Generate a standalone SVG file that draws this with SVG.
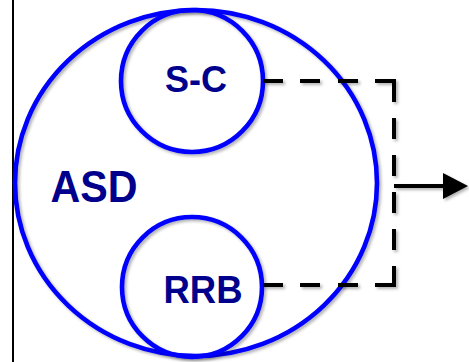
<svg xmlns="http://www.w3.org/2000/svg" width="469" height="362" viewBox="0 0 469 362">
  <style>
    .ring { fill: none; stroke: #0000FF; stroke-width: 4.6; filter: url(#shadow); }
    .label { font-family: "Liberation Sans", Arial, sans-serif; font-weight: bold; fill: #00008C; text-anchor: middle; }
    .dash { fill: none; stroke: #000000; stroke-width: 4; stroke-linejoin: miter;
            stroke-dasharray: 20 17 20 18 20 17 40 16 21 16 21 16 21 16 21 16 38 17 20 18 20 17 20 10;
            filter: url(#shadow); }
    .flow { fill: none; stroke: #000000; stroke-width: 4; filter: url(#shadow); }
  </style>
  <defs>
    <!-- region in user space so that flat shapes such as a horizontal line keep their filter area -->
    <filter id="shadow" filterUnits="userSpaceOnUse" x="0" y="0" width="469" height="362">
      <feDropShadow dx="2" dy="2" stdDeviation="1.5" flood-color="#000000" flood-opacity="0.3"/>
    </filter>
    <!-- solid triangular head, 25 px long and 26 px wide; the line ends 5 px inside its base -->
    <marker id="arrowhead" markerUnits="userSpaceOnUse" markerWidth="26" markerHeight="26" refX="5" refY="13" orient="auto">
      <path d="M0,0 L25,13 L0,26 Z" fill="#000000"/>
    </marker>
  </defs>

  <!-- frame edge on the left -->
  <line x1="13" y1="0" x2="13" y2="362" stroke="#000000" stroke-width="2"/>

  <g id="asd">
    <ellipse class="ring" cx="196" cy="183" rx="181" ry="173"/>
    <text class="label" x="94" y="202" font-size="44" textLength="87" lengthAdjust="spacingAndGlyphs">ASD</text>
  </g>

  <g id="sc">
    <circle class="ring" cx="192" cy="81" r="71"/>
    <text class="label" x="196" y="92" font-size="37" textLength="62" lengthAdjust="spacingAndGlyphs">S-C</text>
  </g>

  <g id="rrb">
    <circle class="ring" cx="192" cy="287" r="70"/>
    <text class="label" x="203" y="303" font-size="38" textLength="79" lengthAdjust="spacingAndGlyphs">RRB</text>
  </g>

  <g id="connectors">
    <path class="dash" d="M263,81 H394 V285 H263"/>
    <path class="flow" d="M394,186 H448" marker-end="url(#arrowhead)"/>
  </g>
</svg>
